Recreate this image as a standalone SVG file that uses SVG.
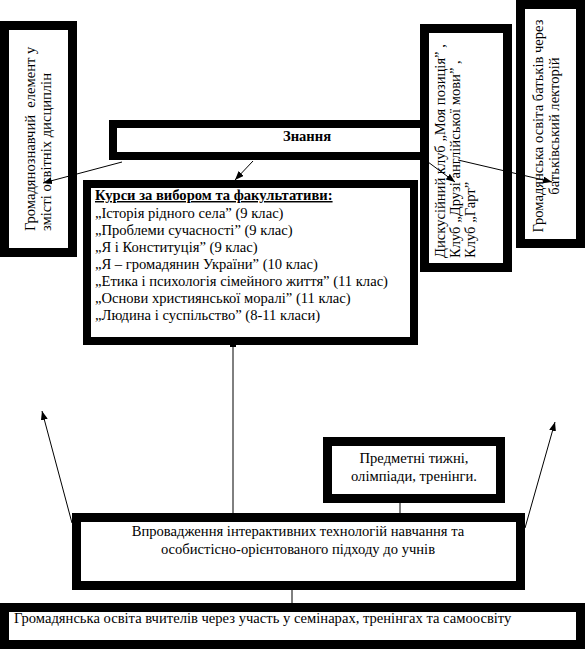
<svg xmlns="http://www.w3.org/2000/svg" width="585" height="649" viewBox="0 0 585 649">
<style>
.box{fill:#fff;stroke:#000;stroke-width:9}
.t{font-family:"Liberation Serif","Times New Roman",serif;font-size:14.6px;fill:#000;white-space:pre}
.b{font-weight:bold}
.c{text-anchor:middle}
.ln{stroke:#000;stroke-width:1;fill:none}
</style>
<defs>
<marker id="ah" markerUnits="userSpaceOnUse" markerWidth="9" markerHeight="7" refX="9" refY="3.5" orient="auto">
<path d="M0,0 L9,3.5 L0,7 z" fill="#000"/>
</marker>
</defs>
<rect width="585" height="649" fill="#fff"/>
<g id="civic-element">
<rect class="box" x="4.5" y="25.5" width="68" height="227"/>
<text class="t" transform="translate(35,231) rotate(-90)">Громадянознавчий  елемент у</text>
<text class="t" transform="translate(51,231) rotate(-90)">змісті освітніх дисциплін</text>
</g>
<g id="knowledge">
<rect class="box" x="113" y="124" width="311" height="32" style="stroke-width:8"/>
<text class="t b c" x="307" y="141">Знання</text>
</g>
<g id="clubs">
<rect class="box" x="424.5" y="28.5" width="83" height="239"/>
<text class="t" transform="translate(445,258) rotate(-90)">Дискусійний клуб „Моя позиція” ,</text>
<text class="t" transform="translate(460,258) rotate(-90)">Клуб „Друзі англійської мови” ,</text>
<text class="t" transform="translate(475,258) rotate(-90)">Клуб „Гарт”</text>
</g>
<g id="parents">
<rect class="box" x="520.5" y="4.5" width="60" height="239"/>
<text class="t c" transform="translate(543,126) rotate(-90)">Громадянська освіта батьків через</text>
<text class="t c" transform="translate(559,126) rotate(-90)">батьківський лекторій</text>
</g>
<g id="courses">
<rect class="box" x="87" y="184" width="327" height="157" style="stroke-width:8"/>
<text class="t b" x="95" y="200" text-decoration="underline">Курси за вибором та факультативи:</text>
<text class="t" x="95" y="218">„Історія рідного села” (9 клас)</text>
<text class="t" x="95" y="235">„Проблеми сучасності” (9 клас)</text>
<text class="t" x="95" y="252">„Я і Конституція” (9 клас)</text>
<text class="t" x="95" y="269">„Я – громадянин України” (10 клас)</text>
<text class="t" x="95" y="286">„Етика і психологія сімейного життя” (11 клас)</text>
<text class="t" x="95" y="303">„Основи християнської моралі” (11 клас)</text>
<text class="t" x="95" y="320">„Людина і суспільство” (8-11 класи)</text>
</g>
<g id="subject-weeks">
<rect class="box" x="327.5" y="441.5" width="173" height="57"/>
<text class="t c" x="414" y="463">Предметні тижні,</text>
<text class="t c" x="414" y="481">олімпіади, тренінги.</text>
</g>
<g id="interactive">
<rect class="box" x="76.5" y="517.5" width="444" height="68"/>
<text class="t c" x="298" y="536">Впровадження інтерактивних технологій навчання та</text>
<text class="t c" x="298" y="554">особистісно-орієнтованого підходу до учнів</text>
</g>
<g id="teachers">
<rect class="box" x="4.5" y="607.5" width="576" height="37"/>
<text class="t" x="14" y="623">Громадянська освіта вчителів через участь у семінарах, тренінгах та самоосвіту</text>
</g>
<g id="connectors">
<line class="ln" x1="122" y1="162" x2="43" y2="183" marker-end="url(#ah)"/>
<line class="ln" x1="253" y1="161" x2="235" y2="180" marker-end="url(#ah)"/>
<line class="ln" x1="428" y1="162" x2="455" y2="182" marker-end="url(#ah)"/>
<line class="ln" x1="458" y1="160" x2="552" y2="182" marker-end="url(#ah)"/>
<line class="ln" x1="233" y1="345" x2="233" y2="513"/>
<rect x="230" y="345" width="6" height="2" fill="#000"/>
<line class="ln" x1="72" y1="523" x2="42" y2="411" marker-end="url(#ah)"/>
<line class="ln" x1="525" y1="528" x2="555" y2="422" marker-end="url(#ah)"/>
<line class="ln" x1="400" y1="503" x2="400" y2="513"/>
<line class="ln" x1="292" y1="590" x2="292" y2="603"/>
</g>
</svg>
